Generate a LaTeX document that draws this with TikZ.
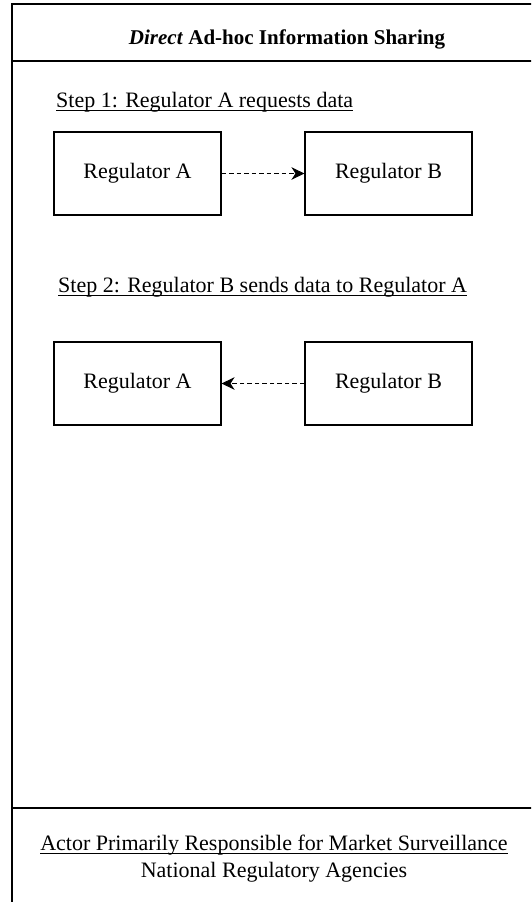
\documentclass[tikz,border=0pt]{standalone}
\usepackage{fontspec}
\setmainfont{Liberation Serif}
\usetikzlibrary{arrows.meta}
\begin{document}
\begin{tikzpicture}[x=1pt,y=-1pt,
  regbox/.style={draw, line width=1.1pt, minimum width=167pt, minimum height=83pt, inner sep=0pt, font=\fontsize{22}{26}\selectfont},
  txt/.style={inner sep=0pt, font=\fontsize{22}{26}\selectfont},
  dasharrow/.style={dash pattern=on 4.7pt off 2.8pt, line width=1pt, -{Stealth[length=13pt,width=12.5pt,inset=4pt]}},
  uline/.style={line width=1pt},
  frameline/.style={line width=1.5pt}]
\useasboundingbox (0,0) rectangle (531,902);
\clip (0,0) rectangle (531,902);
\draw[frameline] (12,4) rectangle (562,940);
\coordinate (hl1) at (12,61);
\coordinate (hr1) at (562,61);
\coordinate (hl2) at (12,808);
\coordinate (hr2) at (562,808);
\draw[frameline] (hl1) -- (hr1);
\draw[frameline] (hl2) -- (hr2);
\node[txt, font=\fontsize{21}{25}\selectfont\bfseries, anchor=base] (title) at (287,44) {\textit{Direct} Ad-hoc Information Sharing};
% step 1
\node[txt, anchor=base west] (s1) at (56,107) {Step 1: Regulator A requests data};
\draw[uline] ([yshift=-3pt]s1.base west) -- ([yshift=-3pt]s1.base east);
\node[regbox] (a1) at (137.5,173.5) {Regulator A};
\node[regbox] (b1) at (388.5,173.5) {Regulator B};
\draw[dasharrow] (a1) -- (b1);
% step 2
\node[txt, anchor=base west] (s2) at (58,292) {Step 2: Regulator B sends data to Regulator A};
\draw[uline] ([yshift=-3pt]s2.base west) -- ([yshift=-3pt]s2.base east);
\node[regbox] (a2) at (137.5,383.5) {Regulator A};
\node[regbox] (b2) at (388.5,383.5) {Regulator B};
\draw[dasharrow] (b2) -- (a2);
% bottom
\node[txt, anchor=base] (actor) at (274,850) {Actor Primarily Responsible for Market Surveillance};
\draw[uline] ([yshift=-3pt]actor.base west) -- ([yshift=-3pt]actor.base east);
\node[txt, anchor=base] (nra) at (274,877) {National Regulatory Agencies};
\end{tikzpicture}
\end{document}
